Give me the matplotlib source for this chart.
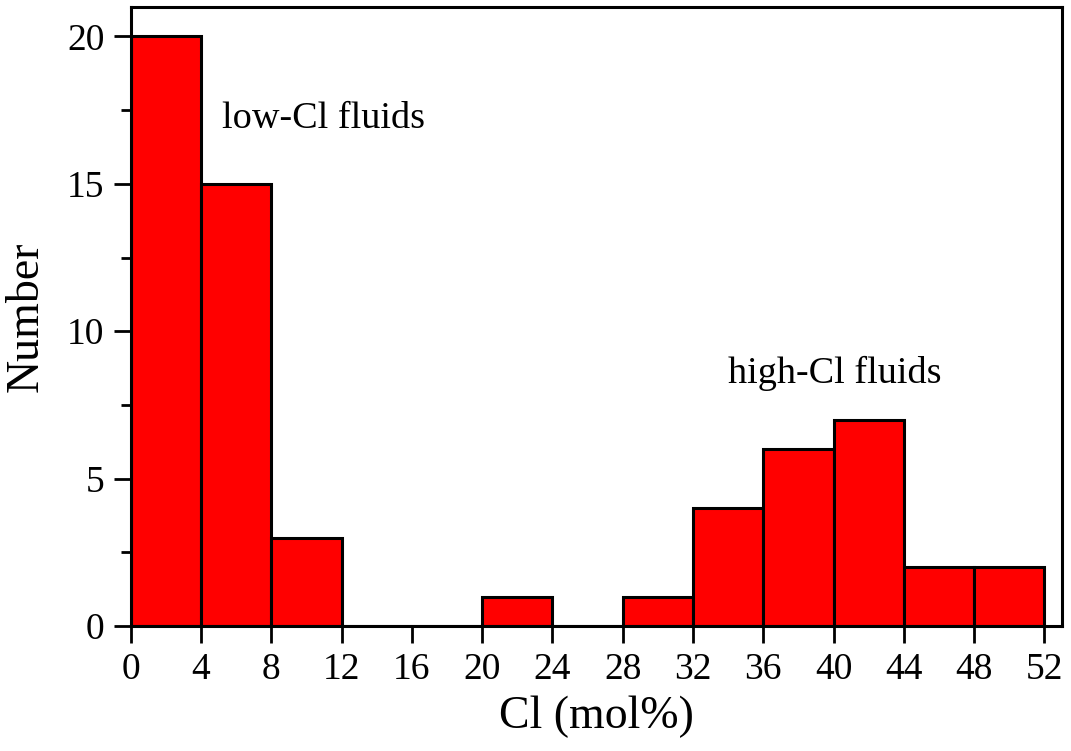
import matplotlib.pyplot as plt
from matplotlib.ticker import MultipleLocator

# Cl content histogram, 4 mol% bins
bin_left = [0, 4, 8, 12, 16, 20, 24, 28, 32, 36, 40, 44, 48]
counts = [20, 15, 3, 0, 0, 1, 0, 1, 4, 6, 7, 2, 2]
bin_width = 4

plt.rcParams["font.family"] = ["Liberation Serif", "DejaVu Serif"]

fig = plt.figure(figsize=(10.71, 7.51), dpi=100)
ax = fig.add_axes([0.122, 0.1664, 0.8696, 0.8243])

ax.bar(bin_left, counts, width=bin_width, align="edge",
       color="#ff0000", edgecolor="black", linewidth=2.2, zorder=2)

ax.set_xlim(0, 53)
ax.set_ylim(0, 21)
ax.xaxis.set_major_locator(MultipleLocator(4))
ax.yaxis.set_major_locator(MultipleLocator(5))
ax.yaxis.set_minor_locator(MultipleLocator(2.5))

ax.tick_params(axis="both", which="major", direction="out", length=12,
               width=2, labelsize=27, pad=7)
ax.tick_params(axis="y", which="minor", direction="out", length=7, width=2)
ax.tick_params(top=False, right=False)
for sp in ax.spines.values():
    sp.set_linewidth(2.2)

ax.set_xlabel("Cl (mol%)", fontsize=33, labelpad=6)
ax.set_ylabel("Number", fontsize=33, labelpad=14)

ax.text(5.2, 16.9, "low-Cl fluids", fontsize=27.5, va="baseline")
ax.text(34.0, 8.26, "high-Cl fluids", fontsize=27.5, va="baseline")

fig.savefig("out.png", dpi=100)
